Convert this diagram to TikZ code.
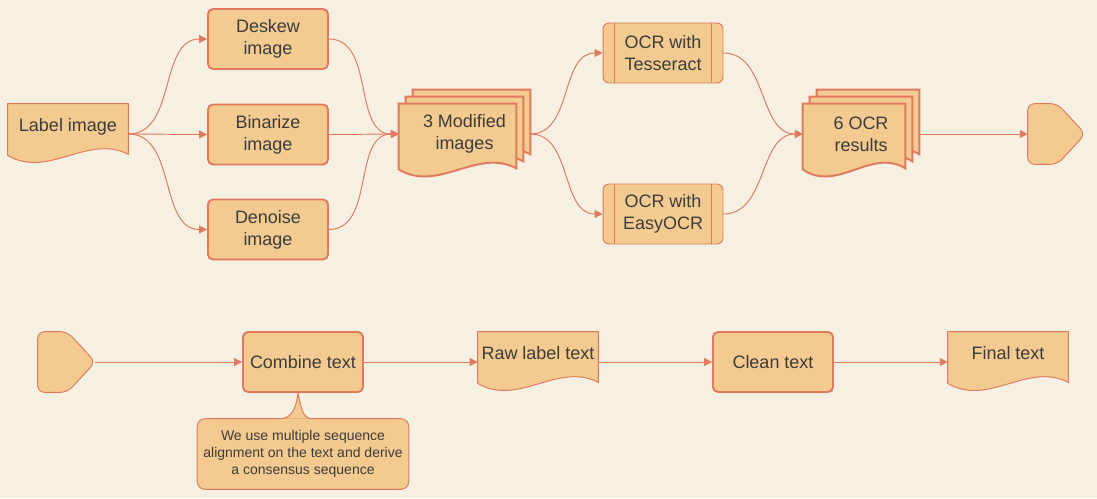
\documentclass[tikz,border=0pt]{standalone}
\usepackage{fontspec}
\setmainfont{Liberation Sans}
\usetikzlibrary{arrows.meta,calc}
\definecolor{bgcol}{RGB}{245,240,225}
\definecolor{boxfill}{RGB}{243,202,143}
\definecolor{boxline}{RGB}{224,122,94}
\definecolor{inkcol}{RGB}{60,60,60}
\pgfdeclarelayer{bg}
\pgfsetlayers{bg,main}
\tikzset{
  proc/.style={draw=boxline, fill=boxfill, line width=1.1pt, rounded corners=0.1cm,
    minimum width=2.4cm, minimum height=1.2cm, align=center, text=inkcol},
  subr/.style={draw=boxline, fill=boxfill, line width=0.55pt, rounded corners=0.12cm,
    minimum width=2.4cm, minimum height=1.2cm, align=center, text=inkcol},
  subline/.style={draw=boxline, line width=0.55pt},
  docbox/.style={minimum width=2.4cm, minimum height=1.2cm, inner xsep=2pt,
    text height=0.3cm, text depth=0.4cm, text=inkcol},
  stackbox/.style={minimum height=1.76cm, align=center, text=inkcol},
  offbox/.style={minimum width=1.14cm, minimum height=1.2cm},
  notebox/.style={minimum width=4.16cm, minimum height=1.4cm, align=center, text=inkcol,
    font=\fontsize{7.97}{9.6}\selectfont},
  docline/.style={draw=boxline, fill=boxfill, line width=0.55pt},
  stackline/.style={draw=boxline, fill=boxfill, line width=1.1pt},
  flow/.style={draw=boxline, line width=0.55pt, -{Triangle[length=4.5pt,width=4.5pt]}}
}
% document outline between a north west and a south east corner
\newcommand\docpath[3]{\path[#1] let \p1=#2, \p2=#3 in
  (\x1,\y1) -- (\x2,\y1) -- (\x2,{\y2+0.2cm})
  .. controls ({\x1+0.667*(\x2-\x1)},{\y2+0.62cm}) and ({\x1+0.333*(\x2-\x1)},{\y2-0.3cm})
  .. (\x1,{\y2+0.18cm}) -- cycle;}
\newcommand\offpath[1]{\path[docline, rounded corners=0.14cm] (#1.north west)
  -- ([xshift=-0.56cm]#1.north east) -- (#1.east) -- ([xshift=-0.56cm]#1.south east)
  -- (#1.south west) -- cycle;}
% callout tail from note #2 up to box #3
\newcommand\tailpath[3]{\path[#1] let \p1=(#2.north), \p3=(#3.south) in
  ({\x1-0.46cm},\y1) .. controls ({\x1-0.26cm},\y1) and ({\x3-0.14cm},{\y3-0.36cm})
  .. ({\x3-0.1cm},\y3) .. controls ({\x3-0.04cm},{\y3-0.26cm}) and ({\x1-0.02cm},\y1)
  .. ({\x1+0.18cm},\y1);}
\begin{document}
\begin{tikzpicture}[x=0.02cm, y=-0.02cm, font=\fontsize{10.24}{12.5}\selectfont]
  \useasboundingbox (0,0) rectangle (1097,498);
  \node[docbox] (A1_0) at (68,134) {Label image};
  \node[proc] (A0_1) at (268,39) {Deskew\\image};
  \node[proc] (A1_1) at (268,134.5) {Binarize\\image};
  \node[proc] (A2_1) at (268,229.5) {Denoise\\image};
  \node[stackbox, minimum width=2.62cm] (A1_2) at (464.5,134) {3 Modified\\images};
  \node[subr] (A0_3) at (663,53) {OCR with\\Tesseract};
  \node[subr] (A2_3) at (663,214) {OCR with\\EasyOCR};
  \node[stackbox, minimum width=2.32cm] (A1_4) at (861,134) {6 OCR\\results};
  \node[offbox] (A1_5) at (1056.5,134) {};
  \node[offbox] (B0_0) at (66.5,362) {};
  \node[proc] (B0_1) at (303,362) {Combine text};
  \node[docbox] (B0_2) at (538,362) {Raw label text};
  \node[proc] (B0_3) at (773,362) {Clean text};
  \node[docbox] (B0_4) at (1008,362) {Final text};
  \node[notebox] (B1_1) at (303,454) {We use multiple sequence\\alignment on the text and derive\\a consensus sequence};
  \foreach \nm in {A0_3,A2_3} {
    \draw[subline] ([xshift=0.24cm]\nm.north west) -- ([xshift=0.24cm]\nm.south west);
    \draw[subline] ([xshift=-0.24cm]\nm.north east) -- ([xshift=-0.24cm]\nm.south east);
  }
  \begin{pgfonlayer}{bg}
    \fill[bgcol] (0,0) rectangle (1097,498);
    \foreach \nm in {A1_0,B0_2,B0_4} {
      \docpath{docline}{(\nm.north west)}{(\nm.south east)}
    }
    \foreach \nm in {A1_2,A1_4} {
      \docpath{stackline}{([xshift=0.28cm]\nm.north west)}{([yshift=0.28cm]\nm.south east)}
      \docpath{stackline}{([xshift=0.14cm,yshift=-0.14cm]\nm.north west)}{([xshift=-0.14cm,yshift=0.14cm]\nm.south east)}
      \docpath{stackline}{([yshift=-0.28cm]\nm.north west)}{([xshift=-0.28cm]\nm.south east)}
    }
    \offpath{A1_5}
    \offpath{B0_0}
    \path[docline, rounded corners=0.16cm] (B1_1.north west) rectangle (B1_1.south east);
    \fill[boxfill] ([xshift=-0.46cm,yshift=-0.05cm]B1_1.north) rectangle ([xshift=0.18cm]B1_1.north);
    \tailpath{fill=boxfill}{B1_1}{B0_1}
    \tailpath{subline}{B1_1}{B0_1}
  \end{pgfonlayer}
  \path (A1_0.east) edge [flow, out=0, in=180] (A0_1.west);
  \path (A1_0.east) edge [flow] (A1_1.west);
  \path (A1_0.east) edge [flow, out=0, in=180] (A2_1.west);
  \path (A0_1.east) edge [flow, out=0, in=180] (A1_2.west);
  \path (A1_1.east) edge [flow] (A1_2.west);
  \path (A2_1.east) edge [flow, out=0, in=180] (A1_2.west);
  \path (A1_2.east) edge [flow, out=0, in=180] (A0_3.west);
  \path (A1_2.east) edge [flow, out=0, in=180] (A2_3.west);
  \path (A0_3.east) edge [flow, out=0, in=180] (A1_4.west);
  \path (A2_3.east) edge [flow, out=0, in=180] (A1_4.west);
  \path (A1_4.east) edge [flow] (A1_5.west);
  \path (B0_0.east) edge [flow] (B0_1.west);
  \path (B0_1.east) edge [flow] (B0_2.west);
  \path (B0_2.east) edge [flow] (B0_3.west);
  \path (B0_3.east) edge [flow] (B0_4.west);
\end{tikzpicture}
\end{document}
